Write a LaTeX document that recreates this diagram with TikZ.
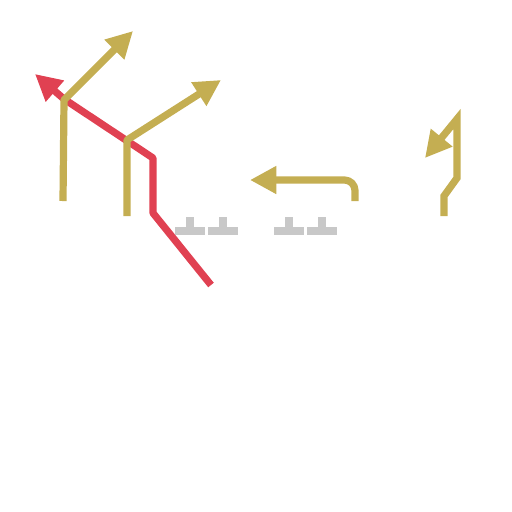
\documentclass[tikz,border=0pt]{standalone}
\usepackage{tikz}
\usetikzlibrary{arrows.meta}
\definecolor{lanegold}{HTML}{C4AE52}
\definecolor{lanered}{HTML}{E04152}
\definecolor{stopgrey}{HTML}{C8C8C8}
\tikzset{
  lane/.style={line width=4.1pt, draw=#1, line join=round,
               -{Triangle[length=15pt,width=15pt]}},
  stopmark/.style={fill=stopgrey, draw=none},
}

\begin{document}
\begin{tikzpicture}[x=0.02cm, y=-0.02cm]
\useasboundingbox (0,0) rectangle (512,512);

% ------------------------- red lane -------------------------------------
\draw[lane=lanered] (211,285) -- (153,213) -- (153,158) -- (64,99) -- (35,74);

% ------------------------- gold lanes -----------------------------------
\draw[lane=lanegold] (63,201) -- (64,100) -- (133,31);
\draw[lane=lanegold] (127,216) -- (127,140) -- (221,80);
\draw[lane=lanegold, rounded corners=6] (355,201) -- (355,180) -- (250,180);
\draw[lane=lanegold, line join=miter] (444,216) -- (444,196) -- (457,178)
   -- (457,119) -- (425,158);

% ------------------------- stop marks -----------------------------------
\foreach \x in {190,223,289,322}{
  \fill[stopmark] (\x-4,217) rectangle (\x+4,227);
  \fill[stopmark] (\x-15,227) rectangle (\x+15,235);
}
\end{tikzpicture}
\end{document}
